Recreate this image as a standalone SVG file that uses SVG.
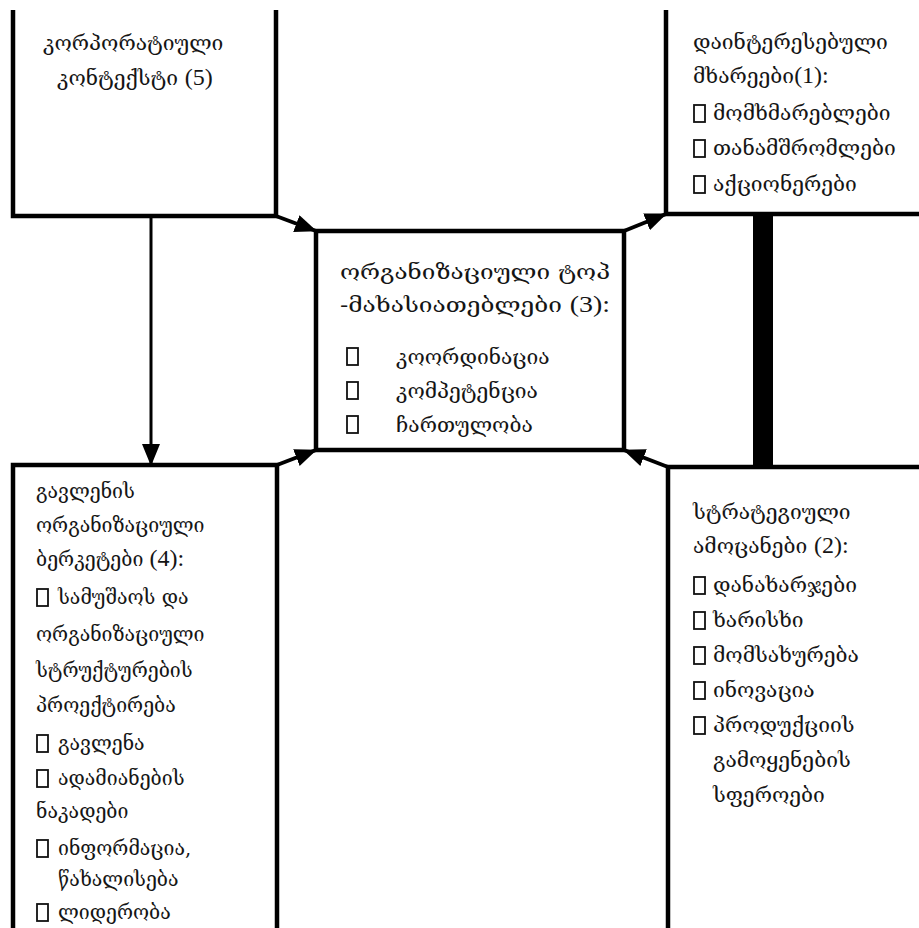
<svg xmlns="http://www.w3.org/2000/svg" width="919" height="928" viewBox="0 0 919 928">
<defs>
<style>
.box{fill:none;stroke:#000;stroke-width:4.5;stroke-linejoin:miter}
.t{font-family:"DejaVu Serif","DejaVu Sans",serif;font-size:21px;fill:#151515}
.s{font-size:19.5px}
.n{font-family:"Liberation Serif",serif;font-size:24px}
.cb{fill:#fff;stroke:#111;stroke-width:1.8}
.arr{stroke:#000;stroke-width:4;fill:none}
</style>
<marker id="ah" markerUnits="userSpaceOnUse" markerWidth="22" markerHeight="18" viewBox="0 0 22 18" refX="21" refY="9" orient="auto">
<path d="M0,0 L22,9 L0,18 Z" fill="#000"/>
</marker>
</defs>
<rect width="919" height="928" fill="#fff"/>

<g id="node5">
<path class="box" d="M13,10 V216 H276 V10"/>
<text class="t" x="43" y="50">კორპორატიული</text>
<text class="t" x="57" y="85">კონტექსტი  <tspan class="n">(5)</tspan></text>
</g>

<g id="node1">
<path class="box" d="M666,10 V214 H919"/>
<text class="t" x="693" y="49">დაინტერესებული</text>
<text class="t" x="693" y="83">მხარეები<tspan class="n">(1):</tspan></text>
<rect class="cb" x="694" y="105" width="11" height="17"/>
<text class="t" x="713" y="120">მომხმარებლები</text>
<rect class="cb" x="694" y="140" width="11" height="17"/>
<text class="t" x="713" y="155">თანამშრომლები</text>
<rect class="cb" x="694" y="176" width="11" height="17"/>
<text class="t" x="713" y="191">აქციონერები</text>
</g>

<g id="node3">
<rect class="box" x="316" y="231" width="308" height="219"/>
<text class="t" x="340" y="279" textLength="270" lengthAdjust="spacingAndGlyphs">ორგანიზაციული  ტოპ</text>
<text class="t" x="340" y="312" textLength="270" lengthAdjust="spacingAndGlyphs">-მახასიათებლები  <tspan class="n">(3):</tspan></text>
<rect class="cb" x="347" y="348" width="11" height="17"/>
<text class="t" x="396" y="364">კოორდინაცია</text>
<rect class="cb" x="347" y="382" width="11" height="17"/>
<text class="t" x="396" y="398">კომპეტენცია</text>
<rect class="cb" x="347" y="416" width="11" height="17"/>
<text class="t" x="396" y="432">ჩართულობა</text>
</g>

<g id="node4">
<path class="box" d="M13,928 V465 H277 V928"/>
<text class="t s" x="36" y="498">გავლენის</text>
<text class="t s" x="36" y="532">ორგანიზაციული</text>
<text class="t s" x="36" y="566">ბერკეტები  <tspan class="n">(4):</tspan></text>
<rect class="cb" x="37" y="589" width="11" height="17"/>
<text class="t s" x="58" y="604">სამუშაოს  და</text>
<text class="t s" x="36" y="641">ორგანიზაციული</text>
<text class="t s" x="36" y="677">სტრუქტურების</text>
<text class="t s" x="36" y="712">პროექტირება</text>
<rect class="cb" x="37" y="735" width="11" height="17"/>
<text class="t s" x="58" y="750">გავლენა</text>
<rect class="cb" x="37" y="770" width="11" height="17"/>
<text class="t s" x="58" y="785">ადამიანების</text>
<text class="t s" x="36" y="818">ნაკადები</text>
<rect class="cb" x="37" y="840" width="11" height="17"/>
<text class="t s" x="58" y="855">ინფორმაცია,</text>
<text class="t s" x="58" y="886">წახალისება</text>
<rect class="cb" x="37" y="904" width="11" height="17"/>
<text class="t s" x="58" y="919">ლიდერობა</text>
</g>

<g id="node2">
<path class="box" d="M668,928 V467 H919"/>
<text class="t" x="693" y="519">სტრატეგიული</text>
<text class="t" x="693" y="553">ამოცანები  <tspan class="n">(2):</tspan></text>
<rect class="cb" x="694" y="577" width="11" height="17"/>
<text class="t" x="713" y="592">დანახარჯები</text>
<rect class="cb" x="694" y="612" width="11" height="17"/>
<text class="t" x="713" y="627">ხარისხი</text>
<rect class="cb" x="694" y="647" width="11" height="17"/>
<text class="t" x="713" y="662">მომსახურება</text>
<rect class="cb" x="694" y="682" width="11" height="17"/>
<text class="t" x="713" y="697">ინოვაცია</text>
<rect class="cb" x="694" y="717" width="11" height="17"/>
<text class="t" x="713" y="732">პროდუქციის</text>
<text class="t" x="713" y="767">გამოყენების</text>
<text class="t" x="713" y="802">სფეროები</text>
</g>

<g id="connectors">
<line x1="151" y1="216" x2="151" y2="465" stroke="#000" stroke-width="3" marker-end="url(#ah)"/>
<line class="arr" x1="276" y1="216" x2="316" y2="231" marker-end="url(#ah)"/>
<line class="arr" x1="624" y1="231" x2="666" y2="214" marker-end="url(#ah)"/>
<line class="arr" x1="277" y1="465" x2="316" y2="450" marker-end="url(#ah)"/>
<line class="arr" x1="668" y1="467" x2="624" y2="450" marker-end="url(#ah)"/>
<rect x="753" y="214" width="20" height="253" fill="#000"/>
</g>
</svg>
